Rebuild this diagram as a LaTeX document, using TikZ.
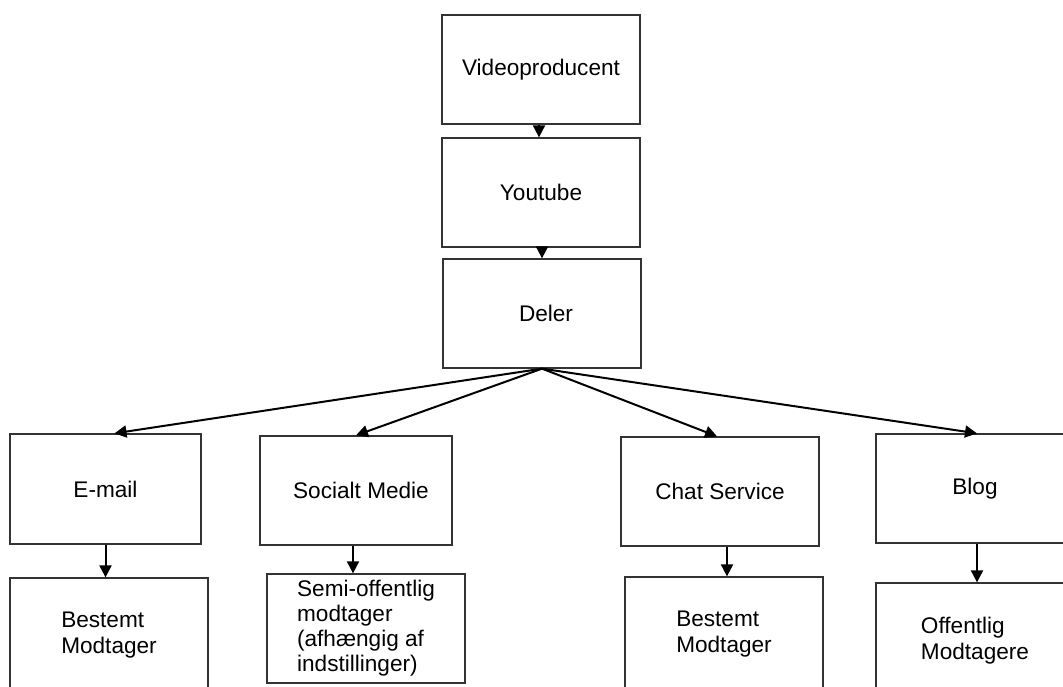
\documentclass[tikz,border=0pt]{standalone}
\usepackage{fontspec}
\setmainfont{Liberation Sans}
\usetikzlibrary{arrows.meta}
\begin{document}
\begin{tikzpicture}[x=1pt,y=-1pt,
  box/.style={draw=black!80,line width=1.3pt,minimum width=198pt,minimum height=109pt,
    inner sep=0pt,align=left,font=\fontsize{22.6}{26}\selectfont},
  arr/.style={line width=2pt,-{Triangle[length=12pt,width=12pt]}}]
\useasboundingbox (0,0) rectangle (1063,686);
\clip (0,0) rectangle (1063,686);
% top chain
\node[box] (video) at (541,69.5) {Videoproducent};
\node[box] (youtube) at (541,192.5) {Youtube};
\node[box] (deler) at (542,313.5) {\hspace*{8pt}Deler};
% channels
\node[box,minimum width=191pt,minimum height=110pt] (email) at (105.5,489) {E-mail};
\node[box,minimum width=192pt] (social) at (356,490.5) {\hspace*{10pt}Socialt Medie};
\node[box] (chat) at (720,491.5) {Chat Service};
\node[box] (blog) at (975,488.5) {Blog};
% receivers
\node[box,minimum height=115pt] (recvA) at (109,635.5) {Bestemt\\Modtager};
\node[box,font=\fontsize{22.6}{25}\selectfont] (recvB) at (366,628.5) {Semi-offentlig\\modtager\\(afhængig af\\indstillinger)};
\node[box,minimum height=115pt] (recvC) at (724,634.5) {Bestemt\\Modtager};
\node[box,minimum height=115pt] (recvD) at (975,640.5) {Offentlig\\Modtagere};
\draw[arr] ([xshift=-2pt]video.south) -- ([xshift=-2pt]youtube.north);
\draw[arr] ([xshift=1pt]youtube.south) -- (deler.north);
\draw[arr] (deler.south) -- ([xshift=9pt]email.north);
\draw[arr] (deler.south) -- (social.north);
\draw[arr] (deler.south) -- ([xshift=-3pt]chat.north);
\draw[arr] (deler.south) -- ([xshift=2pt]blog.north);
\draw[arr] (email.south) -- (email.south |- recvA.north);
\draw[arr] ([xshift=-3pt]social.south) -- ([xshift=-3pt]social.south |- recvB.north);
\draw[arr] ([xshift=7pt]chat.south) -- ([xshift=7pt]chat.south |- recvC.north);
\draw[arr] ([xshift=2pt]blog.south) -- ([xshift=2pt]blog.south |- recvD.north);
\end{tikzpicture}
\end{document}
